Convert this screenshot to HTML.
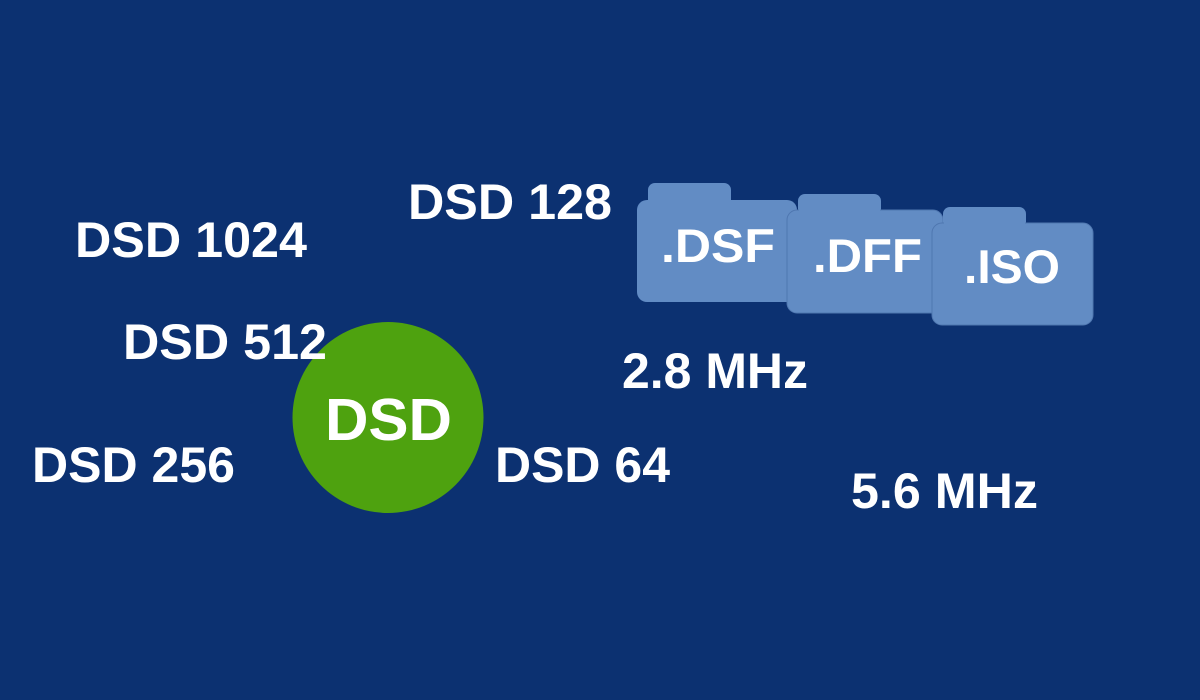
<!DOCTYPE html>
<html><head><meta charset="utf-8"><style>
html,body{margin:0;padding:0;background:#0c3171;}
svg{display:block}
text{font-family:"Liberation Sans",Arial,sans-serif;font-weight:bold;fill:#fff}
</style></head><body>
<svg width="1200" height="700" viewBox="0 0 1200 700" xmlns="http://www.w3.org/2000/svg">
<rect width="1200" height="700" fill="#0c3171"/>
<circle cx="388" cy="417.5" r="95.5" fill="#4ea20f"/>
<text x="325" y="440" font-size="59" textLength="127" lengthAdjust="spacingAndGlyphs">DSD</text>
<g fill="#628cc4">
<rect x="648" y="183" width="83" height="30" rx="7"/>
<rect x="637" y="200" width="160" height="102" rx="10"/>
<rect x="798" y="194" width="83" height="30" rx="7"/>
<rect x="787" y="210" width="156" height="103" rx="10" stroke="#4f77b0" stroke-width="1"/>
<rect x="799" y="200" width="81" height="12"/>
<rect x="943" y="207" width="83" height="30" rx="7"/>
<rect x="932" y="223" width="161" height="102" rx="10" stroke="#4f77b0" stroke-width="1"/>
<rect x="944" y="213" width="81" height="12"/>
</g>
<text x="661" y="262" font-size="47" textLength="114" lengthAdjust="spacingAndGlyphs">.DSF</text>
<text x="813" y="272" font-size="47" textLength="109" lengthAdjust="spacingAndGlyphs">.DFF</text>
<text x="964" y="283" font-size="47" textLength="96" lengthAdjust="spacingAndGlyphs">.ISO</text>
<text x="75" y="257" font-size="50" textLength="232" lengthAdjust="spacingAndGlyphs">DSD 1024</text>
<text x="408" y="219" font-size="50" textLength="204" lengthAdjust="spacingAndGlyphs">DSD 128</text>
<text x="123" y="359" font-size="50" textLength="204" lengthAdjust="spacingAndGlyphs">DSD 512</text>
<text x="32" y="482" font-size="50" textLength="203" lengthAdjust="spacingAndGlyphs">DSD 256</text>
<text x="495" y="482" font-size="50" textLength="175" lengthAdjust="spacingAndGlyphs">DSD 64</text>
<text x="622" y="388" font-size="50" textLength="186" lengthAdjust="spacingAndGlyphs">2.8 MHz</text>
<text x="851" y="508" font-size="50" textLength="187" lengthAdjust="spacingAndGlyphs">5.6 MHz</text>
</svg>
</body></html>
